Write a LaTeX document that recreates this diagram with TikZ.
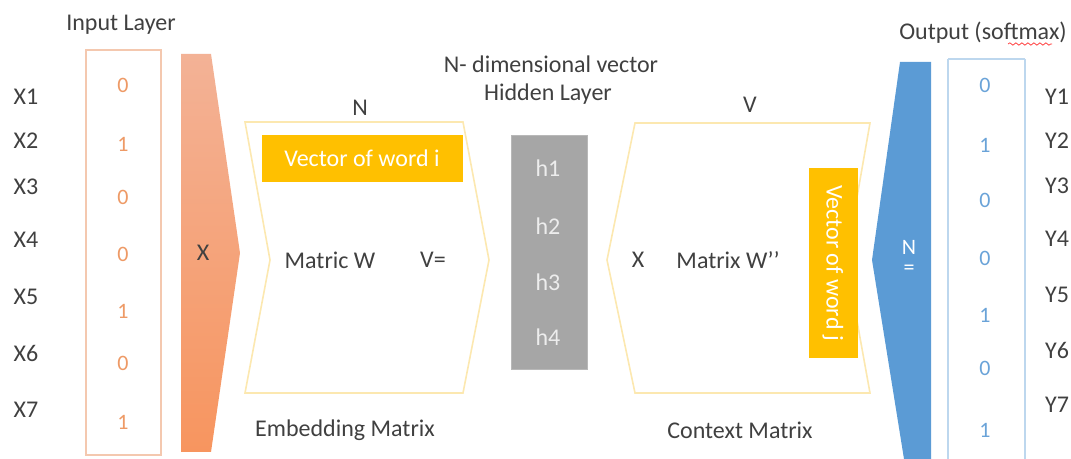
\documentclass[tikz,border=0pt]{standalone}
\usepackage{fontspec}
\setmainfont{Carlito}
\usetikzlibrary{decorations.pathmorphing}
\definecolor{txt}{HTML}{404040}
\definecolor{orangeval}{HTML}{EE9A66}
\definecolor{orangeedge}{HTML}{F4C8AF}
\definecolor{blueval}{HTML}{6AA3D8}
\definecolor{blueedge}{HTML}{BDD7EE}
\definecolor{chevedge}{HTML}{FCE8B0}
\definecolor{gold}{HTML}{FFC000}
\definecolor{hidden}{HTML}{A6A6A6}
\definecolor{hiddentxt}{HTML}{EDEDED}
\definecolor{bluefill}{HTML}{5B9BD5}
\definecolor{salmontop}{HTML}{F3B296}
\definecolor{salmonbot}{HTML}{F7955F}
\begin{document}
\begin{tikzpicture}[x=0.5pt,y=-0.5pt,
  every node/.style={font=\fontsize{12}{14}\selectfont, inner sep=0pt, text=txt},
  lbl/.style={},
  oval/.style={text=orangeval, font=\fontsize{11}{13}\selectfont},
  bval/.style={text=blueval, font=\fontsize{11}{13}\selectfont},
  hval/.style={text=hiddentxt},
  wordvec/.style={text=white},
  matframe/.style={draw=chevedge, line width=0.8pt, fill=white},
]
\useasboundingbox (0,0) rectangle (1071,459);

% ---- input layer ----
\node[lbl] (inlabel) at (121,25) {Input Layer};
\draw[orangeedge, line width=0.7pt, fill=white] (86,50) rectangle (161,455);
\foreach \i/\v/\y/\ly in {1/0/85/97, 2/1/144/141, 3/0/197/187, 4/0/254/240, 5/1/311/297, 6/0/363/353, 7/1/422/410}{
  \node[lbl] (x\i) at (26,\ly) {X\i};
  \node[oval] (in\i) at (123,\y) {\v};
}

% ---- orange chevron (multiply) ----
\shade[top color=salmontop, bottom color=salmonbot]
  (181,54) -- (211,54) -- (240,253) -- (211,452) -- (181,452) -- cycle;
\node[lbl] (mulx) at (203,253) {X};

% ---- embedding matrix ----
\draw[matframe] (245,122) -- (463,122) -- (489,260) -- (463,393) -- (245,393) -- (270,260) -- cycle;
\node[lbl] (ndim) at (360,108) {N};
\fill[gold] (262,135) rectangle (463,182);
\node[wordvec] (vecI) at (362,158) {Vector of word i};
\node[lbl] (matW) at (330,260) {Matric W};
\node[lbl] (veq) at (433,260) {V=};
\node[lbl] (embed) at (345,430) {Embedding Matrix};

% ---- hidden layer ----
\node[lbl] (hidtop) at (551,64) {N- dimensional vector};
\node[lbl] (hidlbl) at (548,94) {Hidden Layer};
\draw[fill=hidden, draw=hidden!80!white, line width=0.5pt] (511,136) rectangle (587,370);
\foreach \i/\y in {1/168, 2/226, 3/282, 4/337}{
  \node[hval] (h\i) at (548,\y) {h\i};
}

% ---- context matrix ----
\draw[matframe] (635,123) -- (870,123) -- (846,260) -- (870,393) -- (635,393) -- (607,260) -- cycle;
\node[lbl] (vdim) at (750,105) {V};
\fill[gold] (809,168) rectangle (858,358);
\node[wordvec, rotate=-90] (vecJ) at (833,263) {Vector of word j};
\node[lbl] (ctxx) at (638,260) {X};
\node[lbl] (matW2) at (728,260) {Matrix W’’};
\node[lbl] (context) at (740,430) {Context Matrix};

% ---- blue chevron (softmax) ----
\fill[bluefill] (900,62) -- (931,62) -- (931,459) -- (904,459) -- (872,260) -- cycle;
\node[text=white, font=\fontsize{11}{13}\selectfont] (nsym) at (909,247) {N};
\node[text=white, font=\fontsize{11}{13}\selectfont] (eqsym) at (909,270) {=};

% ---- output layer ----
\node[lbl] (outlabel) at (983,33) {Output (softmax)};
\draw[red!80!white, line width=0.35pt, decorate, decoration={snake, amplitude=0.6, segment length=3}]
  (1008,44) -- (1052,44);
\draw[blueedge, line width=0.7pt, fill=white] (948,59) -- (948,459) (1025,59) -- (1025,459) (948,59) -- (1025,59);
\foreach \i/\v/\y/\ly in {1/0/85/97, 2/1/145/141, 3/0/200/186, 4/0/258/239, 5/1/315/295, 6/0/368/350, 7/1/430/405}{
  \node[bval] (out\i) at (985,\y) {\v};
  \node[lbl] (y\i) at (1057,\ly) {Y\i};
}
\end{tikzpicture}
\end{document}
